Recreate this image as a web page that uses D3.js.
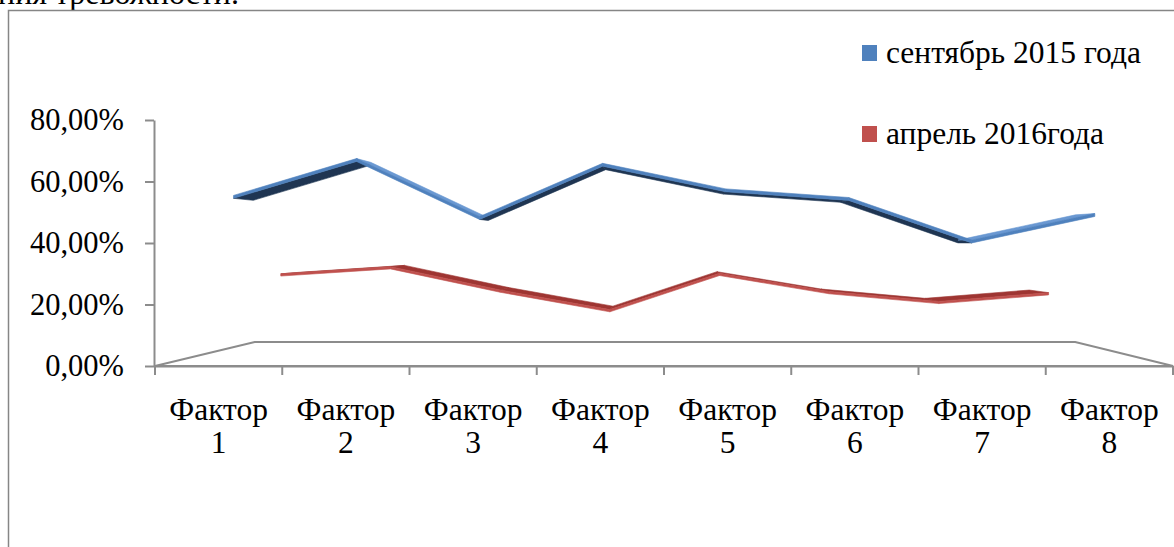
<!DOCTYPE html>
<html><head><meta charset="utf-8">
<script src="https://cdn.jsdelivr.net/npm/d3@7"></script>
<style>
html,body{margin:0;padding:0;background:#fff;overflow:hidden;}
text{font-family:"Liberation Serif","Times New Roman",serif;fill:#000;}
</style></head>
<body><svg id="c" width="1174" height="547"></svg>
<script>
const categories = ["Фактор 1","Фактор 2","Фактор 3","Фактор 4","Фактор 5","Фактор 6","Фактор 7","Фактор 8"];
const seriesNames = ["сентябрь 2015 года","апрель 2016года"];
const sep2015 = [0.555,0.679,0.484,0.663,0.577,0.548,0.405,0.494];
const apr2016 = [0.279,0.306,0.218,0.144,0.281,0.212,0.175,0.208];
const yTicks = [0,0.2,0.4,0.6,0.8];
const headerText = "ния тревожности.";

const svg = d3.select("#c");
const x = d3.scaleBand().domain(categories).range([155,1173]).padding(0);
const y = d3.scaleLinear().domain([0,0.8]).range([366,120]);
const VP = [669,242];
const sBack = 0.806;
function proj(px,py,s){return [VP[0]+s*(px-VP[0]), VP[1]+s*(py-VP[1])];}
const fmt = v => d3.format(".2f")(v*100).replace(".",",")+"%";
const grey = "#8c8c8c";

// header (cut off at top, as in the source)
svg.append("text").attr("x",-2).attr("y",4).style("font-size","32px").text(headerText);
// frame
svg.append("rect").attr("x",8.5).attr("y",10.5).attr("width",1300).attr("height",700)
  .attr("fill","none").attr("stroke","#868686").attr("stroke-width",1.5);

// floor
const x0 = x.range()[0], x1 = x.range()[1];
const floor = [proj(x0,y(0),1),proj(x1,y(0),1),proj(x1,y(0),sBack),proj(x0,y(0),sBack)];
svg.append("path").attr("d","M"+floor.map(p=>p.join(",")).join("L")+"Z")
  .attr("fill","none").attr("stroke",grey).attr("stroke-width",2);

// y axis
const ya = svg.append("g").attr("transform","translate(154,0)")
  .call(d3.axisLeft(y).tickValues(yTicks).tickFormat(fmt).tickSize(9).tickSizeOuter(0).tickPadding(21));
ya.selectAll("path,line").attr("stroke",grey).attr("stroke-width",2);
ya.selectAll("text").style("font-size","30.5px").attr("font-family",null);

// x axis
const xa = svg.append("g").attr("transform","translate(0,366)")
  .call(d3.axisBottom(x).tickSize(0).tickSizeOuter(0).tickPadding(0));
xa.select("path").attr("stroke",grey).attr("stroke-width",2);
xa.selectAll("text").attr("font-family",null).style("font-size","31.5px").attr("dy",null).attr("y",0)
  .each(function(d){
    const t=d3.select(this); t.text(null);
    const parts=d.split(" ");
    t.append("tspan").attr("x",0).attr("y",54).text(parts[0]);
    t.append("tspan").attr("x",0).attr("y",87).text(parts[1]);
  });
d3.range(categories.length+1).forEach(i=>{
  const px = x0 + i*x.step();
  svg.append("line").attr("x1",px).attr("x2",px).attr("y1",366).attr("y2",375)
    .attr("stroke",grey).attr("stroke-width",2);
});

// ribbons
function ribbon(vals, sF, sB, h, cFront, cTop, cBottom){
  const g = svg.append("g");
  const pts = vals.map((v,i)=>[x(categories[i])+x.bandwidth()/2, y(v)]);
  for(let i=0;i<pts.length-1;i++){
    const a=pts[i], b=pts[i+1];
    const fTop=[proj(a[0],a[1]-h,sF),proj(b[0],b[1]-h,sF)];
    const bTop=[proj(a[0],a[1]-h,sB),proj(b[0],b[1]-h,sB)];
    const fBot=[proj(a[0],a[1]+h,sF),proj(b[0],b[1]+h,sF)];
    const bBot=[proj(a[0],a[1]+h,sB),proj(b[0],b[1]+h,sB)];
    const seg=[fTop[1][0]-fTop[0][0], fTop[1][1]-fTop[0][1]];
    const mf=[(fTop[0][0]+fTop[1][0])/2,(fTop[0][1]+fTop[1][1])/2];
    const mb=[(bTop[0][0]+bTop[1][0])/2,(bTop[0][1]+bTop[1][1])/2];
    const d=[mb[0]-mf[0], mb[1]-mf[1]];
    const cross=seg[0]*d[1]-seg[1]*d[0];
    let face, col;
    if(cross<0){ face=[fTop[0],fTop[1],bTop[1],bTop[0]]; col=cTop; }
    else { face=[fBot[0],fBot[1],bBot[1],bBot[0]]; col=cBottom; }
    g.append("path").attr("d","M"+face.map(p=>p.join(",")).join("L")+"Z")
      .attr("fill",col).attr("stroke",col).attr("stroke-width",0.6);
  }
  for(let i=0;i<pts.length-1;i++){
    const a=pts[i], b=pts[i+1];
    const q=[proj(a[0],a[1]-h,sF),proj(b[0],b[1]-h,sF),proj(b[0],b[1]+h,sF),proj(a[0],a[1]+h,sF)];
    g.append("path").attr("d","M"+q.map(p=>p.join(",")).join("L")+"Z")
      .attr("fill",cFront).attr("stroke",cFront).attr("stroke-width",0.6);
  }
}
ribbon(apr2016, 0.862, 0.818, 1.3, "#C0504D", "#9E3532", "#7A2422");
ribbon(sep2015, 0.967, 0.923, 1.5, "#4F81BD", "#6A98D2", "#1F3552");

// legend
const legend = [{n:seriesNames[0],c:"#4F81BD",y:53},{n:seriesNames[1],c:"#C0504D",y:134}];
legend.forEach(l=>{
  svg.append("rect").attr("x",862).attr("y",l.y-8).attr("width",15).attr("height",16).attr("fill",l.c);
  svg.append("text").attr("x",886).attr("y",l.y).attr("dy","0.33em").style("font-size","31.5px").text(l.n);
});
</script></body></html>
